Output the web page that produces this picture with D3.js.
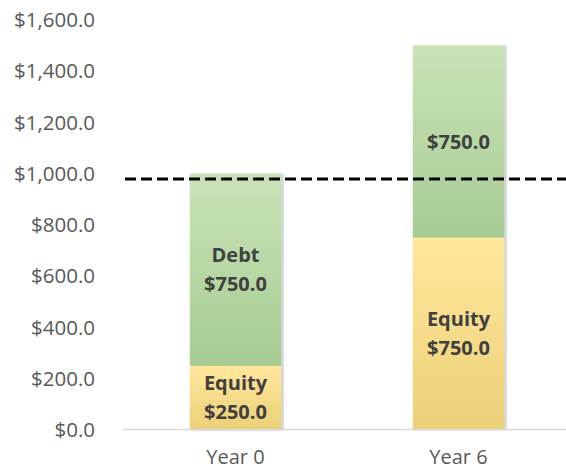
<!DOCTYPE html>
<html>
<head>
<script src="https://d3js.org/d3.v7.min.js"></script>
<style>
  body { margin: 0; background: #fff; }
  text { font-family: "Open Sans", sans-serif; }
</style>
</head>
<body>
<svg width="566" height="470"></svg>
<script>
// data
var years = ["Year 0", "Year 6"];
var equity = [250, 750];
var debt = [750, 750];
var yTicks = [0, 200, 400, 600, 800, 1000, 1200, 1400, 1600];
var threshold = 980;

var svg = d3.select("svg");

var x = d3.scaleBand()
  .domain(years)
  .range([124, 570])
  .paddingInner(0.59)
  .paddingOuter(0.295);

var y = d3.scaleLinear()
  .domain([0, 1600])
  .range([430, 20]);

var defs = svg.append("defs");
var gGreen = defs.append("linearGradient").attr("id", "gGreen")
  .attr("x1", 0).attr("y1", 0).attr("x2", 0).attr("y2", 1);
gGreen.append("stop").attr("offset", "0%").attr("stop-color", "#c9e3b8");
gGreen.append("stop").attr("offset", "100%").attr("stop-color", "#a6cc92");
var gYellow = defs.append("linearGradient").attr("id", "gYellow")
  .attr("x1", 0).attr("y1", 0).attr("x2", 0).attr("y2", 1);
gYellow.append("stop").attr("offset", "0%").attr("stop-color", "#ffe79c");
gYellow.append("stop").attr("offset", "100%").attr("stop-color", "#ecd077");
var shadow = defs.append("filter").attr("id", "shadow")
  .attr("x", "-10%").attr("y", "-10%").attr("width", "130%").attr("height", "120%");
shadow.append("feDropShadow").attr("dx", 2).attr("dy", 0)
  .attr("stdDeviation", 1.2).attr("flood-color", "#000").attr("flood-opacity", 0.25);

// y axis labels, no line
var yAxis = d3.axisLeft(y).tickValues(yTicks).tickSize(0).tickPadding(0)
  .tickFormat(function(d) { return "$" + d3.format(",.1f")(d); });
var ya = svg.append("g").attr("transform", "translate(95,0)").call(yAxis);
ya.select(".domain").remove();
ya.selectAll("text").attr("font-size", 20.5).attr("fill", "#595959")
  .style("font-family", "'Open Sans', sans-serif");

// bars
var bars = svg.append("g");
years.forEach(function(yr, i) {
  var g = bars.append("g").attr("filter", "url(#shadow)");
  g.append("rect")
    .attr("x", x(yr)).attr("width", x.bandwidth())
    .attr("y", y(equity[i] + debt[i]))
    .attr("height", y(equity[i]) - y(equity[i] + debt[i]))
    .attr("fill", "url(#gGreen)");
  g.append("rect")
    .attr("x", x(yr)).attr("width", x.bandwidth())
    .attr("y", y(equity[i]))
    .attr("height", y(0) - y(equity[i]))
    .attr("fill", "url(#gYellow)");
});

// x axis baseline
svg.append("line")
  .attr("x1", 123).attr("x2", 566)
  .attr("y1", y(0) - 0.5).attr("y2", y(0) - 0.5)
  .attr("stroke", "#d9d9d9").attr("stroke-width", 1.5);

var xAxis = d3.axisBottom(x).tickSize(0).tickPadding(0);
var xa = svg.append("g").attr("transform", "translate(0,450)").call(xAxis);
xa.select(".domain").remove();
xa.selectAll("text").attr("font-size", 20).attr("fill", "#595959")
  .style("font-family", "'Open Sans', sans-serif");

// data labels
function label(cx, cy, lines) {
  var t = svg.append("text")
    .attr("text-anchor", "middle")
    .attr("font-size", 20).attr("font-weight", "bold").attr("fill", "#404040");
  var off = -(lines.length - 1) * 29 / 2;
  lines.forEach(function(s, k) {
    t.append("tspan").attr("x", cx).attr("y", cy + off + k * 29)
      .attr("dy", "0.35em").text(s);
  });
}
var fmt = function(v) { return "$" + d3.format(",.1f")(v); };
var c0 = x(years[0]) + x.bandwidth() / 2;
var c6 = x(years[1]) + x.bandwidth() / 2;
label(c0, (y(equity[0] + debt[0]) + y(equity[0])) / 2, ["Debt", fmt(debt[0])]);
label(c0, (y(equity[0]) + y(0)) / 2, ["Equity", fmt(equity[0])]);
label(c6, (y(equity[1] + debt[1]) + y(equity[1])) / 2, [fmt(debt[1])]);
label(c6, (y(equity[1]) + y(0)) / 2, ["Equity", fmt(equity[1])]);

// threshold dashed line
svg.append("line")
  .attr("x1", 125).attr("x2", 566)
  .attr("y1", y(threshold)).attr("y2", y(threshold))
  .attr("stroke", "#000").attr("stroke-width", 3)
  .attr("stroke-dasharray", "11,5");
</script>
</body>
</html>
